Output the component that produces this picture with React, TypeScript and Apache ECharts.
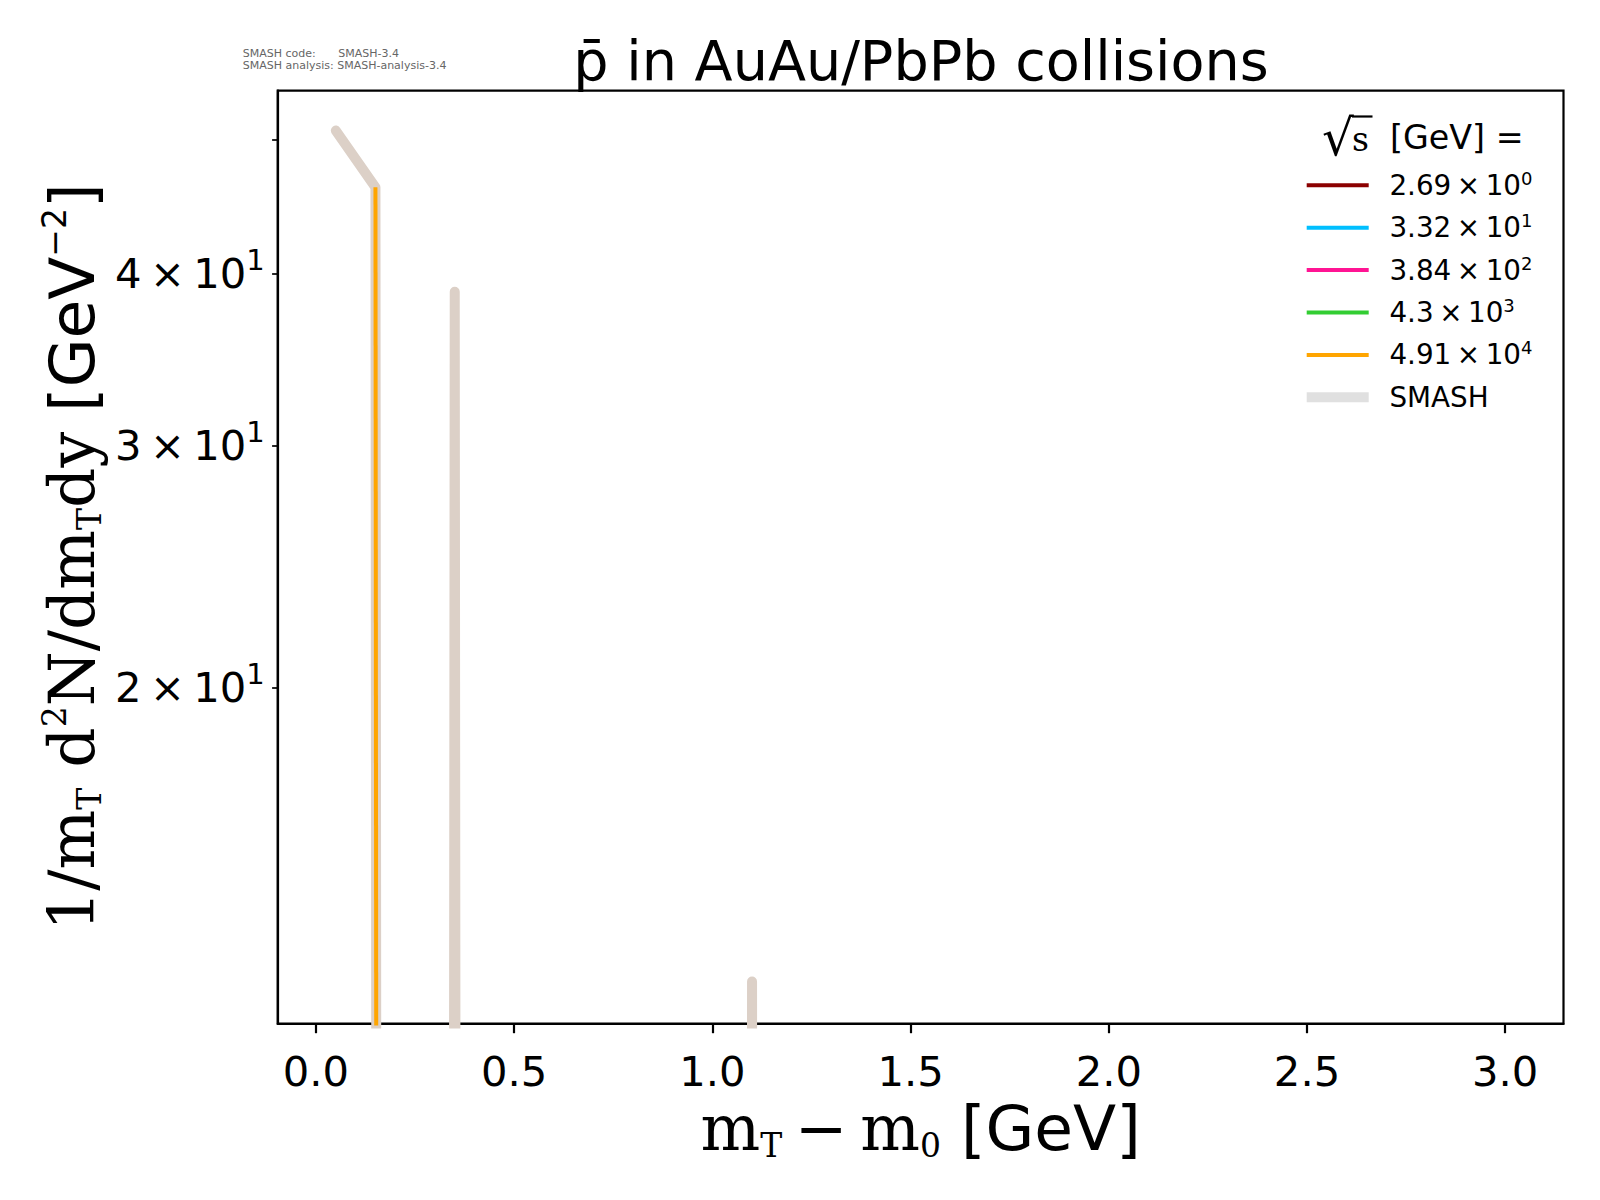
import React, { useEffect, useRef } from 'react';
import * as echarts from 'echarts';

// Zero-yield bins: a log axis cannot show 0, so (like matplotlib's clipping) they are sent far below the frame.
const ZERO = 1e-30;

const smashX = [0.05, 0.15, 0.25, 0.35, 0.45, 0.6, 0.8, 1.0, 1.1, 1.2, 1.5, 2.0, 2.5, 3.0];
const smashY = [50.8, 46.2, 0, 38.8, 0, 0, 0, 0, 12.24, 0, 0, 0, 0, 0];

const energyMantissa = ['2.69', '3.32', '3.84', '4.3', '4.91'];
const energyExponent = ['0', '1', '2', '3', '4'];
const energyColors = ['#8b0000', '#00bfff', '#ff1493', '#32cd32', '#ffa500'];
const energyX: number[][] = [[], [], [], [], [0.15, 0.25]];
const energyY: number[][] = [[], [], [], [], [46.2, 0]];

const xTicks = [0, 0.5, 1.0, 1.5, 2.0, 2.5, 3.0];
const xTickLabels = ['0.0', '0.5', '1.0', '1.5', '2.0', '2.5', '3.0'];
const yTicks = [20, 30, 40, 50];
const yLabelTicks = [20, 30, 40];
const yTickMantissa = ['2', '3', '4'];
const yTickExponent = '1';

const xRange = [-0.0966, 3.147];
const yRange = [11.41, 54.3];

const SANS = 'DejaVu Sans';
const SERIF = 'DejaVu Serif';

// legend icons: a bar inside a fixed 62x10 box (the bare moves pin the box)
const ICON_THIN = 'path://M0,0M0,3H62V7H0ZM62,10';
const ICON_THICK = 'path://M0,0H62V10H0Z';

function toLog(v: number) {
  return v > 0 ? v : ZERO;
}

export default function App() {
  const ref = useRef<HTMLDivElement>(null);
  useEffect(() => {
    if (!ref.current) return;
    const chart = echarts.init(ref.current, null, { renderer: 'svg' });

    const energyNames = energyMantissa.map((m, i) => `${m} × 10^${energyExponent[i]}`);

    const series: any[] = [
      {
        type: 'line',
        name: 'SMASH',
        data: smashX.map((x, i) => [x, toLog(smashY[i])]),
        symbol: 'none',
        clip: true,
        z: 2,
        lineStyle: { color: '#dcd0c7', width: 10, cap: 'round', join: 'round' },
        itemStyle: { color: '#dcd0c7' },
      },
      ...energyNames.map((name, k) => ({
        type: 'line',
        name,
        data: energyX[k].map((x, i) => [x, toLog(energyY[k][i])]),
        symbol: 'none',
        clip: true,
        z: 3,
        lineStyle: { color: energyColors[k], width: 4, cap: 'butt' },
        itemStyle: { color: energyColors[k] },
      })),
    ];

    const legendData: any[] = [
      ...energyNames.map((name, k) => ({
        name,
        icon: ICON_THIN,
        itemStyle: { color: energyColors[k], borderWidth: 0 },
      })),
      { name: 'SMASH', icon: ICON_THICK, itemStyle: { color: '#e0e0e0', borderWidth: 0 } },
    ];

    const option: any = {
      animation: false,
      backgroundColor: '#ffffff',
      grid: {
        left: 277.7,
        top: 90.7,
        right: 36.5,
        bottom: 176.5,
        show: true,
        borderColor: '#000',
        borderWidth: 2.2,
        containLabel: false,
        outerBoundsMode: 'none',
      },
      xAxis: {
        type: 'value',
        min: xRange[0],
        max: xRange[1],
        axisLine: { show: true, onZero: false, lineStyle: { color: '#000', width: 2.2 } },
        axisTick: {
          show: true,
          length: 9.7,
          lineStyle: { color: '#000', width: 2.2 },
          customValues: xTicks,
        },
        axisLabel: {
          customValues: xTicks,
          margin: 27,
          color: '#000',
          fontFamily: SANS,
          fontSize: 41.7,
          lineHeight: 41.7,
          formatter: (v: number) => {
            const i = xTicks.findIndex((t) => Math.abs(t - v) < 1e-6);
            return i >= 0 ? xTickLabels[i] : '';
          },
        },
        splitLine: { show: false },
        name: '{m|m}{sub|T}{m|\u2009−\u2009m}{sub|0}{g| [GeV]}',
        nameLocation: 'middle',
        nameGap: 64.7,
        nameMoveOverlap: false,
        nameTextStyle: {
          color: '#000',
          rich: {
            m: { fontFamily: SERIF, fontSize: 63, lineHeight: 80, color: '#000' },
            sub: { fontFamily: SERIF, fontSize: 33, lineHeight: 80, height: 46, verticalAlign: 'bottom', color: '#000' },
            g: { fontFamily: SANS, fontSize: 63, lineHeight: 80, color: '#000' },
          },
        },
      },
      yAxis: {
        type: 'log',
        logBase: 10,
        min: yRange[0],
        max: yRange[1],
        axisLine: { show: true, onZero: false, lineStyle: { color: '#000', width: 2.2 } },
        axisTick: {
          show: true,
          length: 5.6,
          lineStyle: { color: '#000', width: 1.7 },
          customValues: yTicks,
        },
        minorTick: { show: false },
        axisLabel: {
          customValues: yLabelTicks,
          margin: 13,
          color: '#000',
          formatter: (v: number) => {
            const i = yLabelTicks.findIndex((t) => Math.abs(t - v) < 1e-6);
            if (i < 0) return '';
            return `{b|${yTickMantissa[i]}\u2009×\u200910}{s|${yTickExponent}}`;
          },
          rich: {
            b: { fontFamily: SANS, fontSize: 41.7, lineHeight: 50, color: '#000' },
            s: { fontFamily: SANS, fontSize: 29, lineHeight: 50, height: 22.6, verticalAlign: 'top', color: '#000' },
          },
        },
        splitLine: { show: false },
        name: '{m|1/m}{sub|T}{m| d}{sup|2}{m|N/dm}{sub|T}{m|dy}{g| [GeV}{gsup|−2}{g|]}',
        nameLocation: 'middle',
        nameGap: 165.5,
        nameMoveOverlap: false,
        nameTextStyle: {
          color: '#000',
          rich: {
            m: { fontFamily: SERIF, fontSize: 63, lineHeight: 80, color: '#000' },
            sub: { fontFamily: SERIF, fontSize: 33, lineHeight: 80, height: 46, verticalAlign: 'bottom', color: '#000' },
            sup: { fontFamily: SERIF, fontSize: 33, lineHeight: 80, height: 45, verticalAlign: 'top', color: '#000' },
            g: { fontFamily: SANS, fontSize: 63, lineHeight: 80, color: '#000' },
            gsup: { fontFamily: SANS, fontSize: 33, lineHeight: 80, height: 45, verticalAlign: 'top', color: '#000' },
          },
        },
      },
      legend: {
        orient: 'vertical',
        left: 1306.7,
        top: 169.3,
        padding: 0,
        itemWidth: 62,
        itemHeight: 10,
        itemGap: 10.4,
        selectedMode: false,
        symbolKeepAspect: true,
        data: legendData,
        formatter: (name: string) => {
          const i = energyNames.indexOf(name);
          if (i < 0) return `{t|${name}}`;
          return `{t|${energyMantissa[i]}\u2009×\u200910}{s|${energyExponent[i]}}`;
        },
        textStyle: {
          color: '#000',
          fontFamily: SANS,
          fontSize: 27.8,
          lineHeight: 32,
          padding: [0, 0, 0, 15.7],
          rich: {
            t: { fontFamily: SANS, fontSize: 27.8, lineHeight: 32, color: '#000' },
            s: { fontFamily: SANS, fontSize: 18, lineHeight: 32, height: 18, verticalAlign: 'top', color: '#000' },
          },
        },
      },
      graphic: [
        {
          type: 'text',
          x: 921,
          y: 60.4,
          style: {
            text: 'p\u0304 in AuAu/PbPb collisions',
            fontFamily: SANS,
            fontSize: 55.6,
            fill: '#000',
            align: 'center',
            verticalAlign: 'middle',
          },
        },
        {
          type: 'text',
          x: 242.7,
          y: 53.3,
          style: { text: 'SMASH code:', fontFamily: SANS, fontSize: 11, fill: '#666', align: 'left', verticalAlign: 'middle' },
        },
        {
          type: 'text',
          x: 338.3,
          y: 53.3,
          style: { text: 'SMASH-3.4', fontFamily: SANS, fontSize: 11, fill: '#666', align: 'left', verticalAlign: 'middle' },
        },
        {
          type: 'text',
          x: 242.7,
          y: 65.6,
          style: { text: 'SMASH analysis: SMASH-analysis-3.4', fontFamily: SANS, fontSize: 11, fill: '#666', align: 'left', verticalAlign: 'middle' },
        },
        {
          type: 'text',
          x: 1322,
          y: 137.5,
          style: { text: '√', fontFamily: SANS, fontSize: 50, fill: '#000', align: 'left', verticalAlign: 'middle' },
        },
        {
          type: 'line',
          shape: { x1: 1352, y1: 116.5, x2: 1372.5, y2: 116.5 },
          style: { stroke: '#000', lineWidth: 2.2 },
        },
        {
          type: 'text',
          x: 1352,
          y: 139.3,
          style: { text: 's', fontFamily: SERIF, fontSize: 33, fill: '#000', align: 'left', verticalAlign: 'middle' },
        },
        {
          type: 'text',
          x: 1390,
          y: 137,
          style: { text: '[GeV] =', fontFamily: SANS, fontSize: 33.3, fill: '#000', align: 'left', verticalAlign: 'middle' },
        },
      ],
      series,
    };

    chart.setOption(option);
    return () => chart.dispose();
  }, []);

  return (
    <div
      ref={ref}
      style={{ position: 'absolute', left: 0, top: 0, width: 1600, height: 1200 }}
    />
  );
}
